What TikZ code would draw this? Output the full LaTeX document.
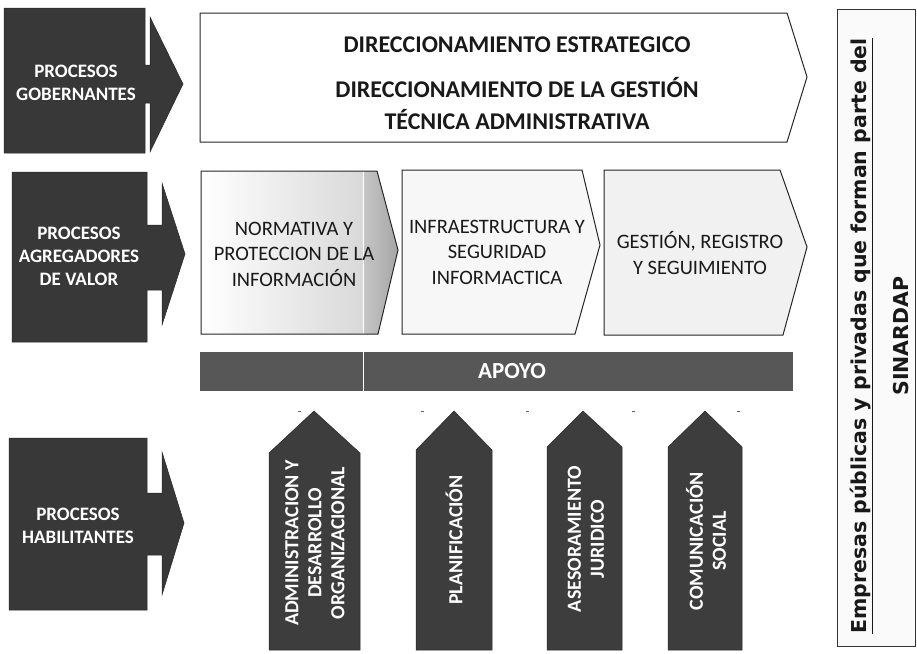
\documentclass[tikz,border=0pt]{standalone}
\usepackage{fontspec}
\setmainfont{Carlito}
\newfontfamily\dejavu{DejaVu Sans}
\usetikzlibrary{positioning}

\begin{document}
\begin{tikzpicture}[x=1pt, y=1pt,
    procbox/.style={fill=black!78, draw=black!85, line width=0.5pt},
    proclabel/.style={text=white, font=\bfseries\fontsize{19}{23}\selectfont, align=center},
    chevron/.style={draw=black!85, line width=1pt},
    chevlabel/.style={text=black!90, font=\fontsize{20.5}{25.5}\selectfont, align=center},
    toplabel/.style={text=black!90, font=\bfseries\fontsize{24}{32}\selectfont, align=center},
    pillar/.style={fill=black!76, draw=black!85, line width=0.5pt},
    pillarlabel/.style={text=white, font=\bfseries\fontsize{20}{23}\selectfont, align=center, rotate=90},
    apoyotick/.style={draw=black!60, line width=1pt}]

    \useasboundingbox (0,0) rectangle (917,-653);

    % Process blocks on the left, each with its arrow
    \fill[procbox] (4,-8) -- (145,-8) -- (145,-65) -- (150,-65) -- (150,-17) -- (183,-84) -- (150,-152) -- (150,-103) -- (145,-103) -- (145,-153) -- (4,-153) -- cycle;
    \fill[procbox] (12,-172) -- (147,-172) -- (147,-225) -- (162,-225) -- (162,-183) -- (185,-254) -- (162,-325) -- (162,-290) -- (147,-290) -- (147,-342) -- (12,-342) -- cycle;
    \fill[procbox] (9,-438) -- (147,-438) -- (147,-493) -- (162,-493) -- (162,-452) -- (184,-523) -- (162,-595) -- (162,-555) -- (147,-555) -- (147,-610) -- (9,-610) -- cycle;

    \node[proclabel] (gob) at (76,-83) {PROCESOS\\GOBERNANTES};
    \node[proclabel] (agr) at (79,-256) {PROCESOS\\AGREGADORES\\DE VALOR};
    \node[proclabel] (hab) at (78,-526) {PROCESOS\\HABILITANTES};

    % Top chevron
    \filldraw[chevron, fill=white] (200,-13) -- (787,-13) -- (807,-77) -- (787,-142) -- (200,-142) -- cycle;
    \node[toplabel] (estr) at (517,-45) {DIRECCIONAMIENTO ESTRATEGICO};
    \node[toplabel] (tecn) at (517,-104) {DIRECCIONAMIENTO DE LA GESTIÓN\\TÉCNICA ADMINISTRATIVA};

    % Second row of chevrons
    \begin{scope}
        \clip (201,-171) -- (377,-171) -- (398,-250) -- (378,-334) -- (201,-334) -- cycle;
        \shade[left color=white, right color=gray!30] (201,-171) rectangle (363,-334);
        \shade[left color=gray!45, right color=gray!70] (363,-171) rectangle (398,-334);
        \draw[white, line width=1pt] (363,-171) -- (363,-334);
    \end{scope}
    \draw[chevron] (201,-171) -- (377,-171) -- (398,-250) -- (378,-334) -- (201,-334) -- cycle;
    \filldraw[chevron, fill=gray!6] (402,-170) -- (582,-170) -- (600,-245) -- (575,-334) -- (402,-334) -- cycle;
    \filldraw[chevron, fill=gray!11] (604,-170) -- (780,-170) -- (807,-247) -- (783,-335) -- (604,-335) -- cycle;

    \node[chevlabel] (norm) at (294,-254) {NORMATIVA Y\\PROTECCION DE LA\\INFORMACIÓN};
    \node[chevlabel] (infra) at (497,-252) {INFRAESTRUCTURA Y\\SEGURIDAD\\INFORMACTICA};
    \node[chevlabel] (regi) at (700,-253) {GESTIÓN, REGISTRO\\Y SEGUIMIENTO};

    % Support bar
    \fill[black!66] (200,-352) rectangle (793,-391);
    \draw[white, line width=1pt] (363,-352) -- (363,-391);
    \node[text=white, font=\bfseries\fontsize{23}{26}\selectfont] (apoyo) at (512,-371) {APOYO};

    \foreach \x in {299,422,527,633,738}
        \draw[apoyotick] (\x-1.5,-411) -- (\x+1.5,-411);

    % Support pillars
    \fill[pillar] (269,-650) -- (269,-453) -- (314,-411) -- (360,-453) -- (360,-650) -- cycle;
    \fill[pillar] (416,-650) -- (416,-450) -- (454,-411) -- (492,-450) -- (492,-650) -- cycle;
    \fill[pillar] (547,-650) -- (547,-447) -- (583,-411) -- (622,-447) -- (622,-650) -- cycle;
    \fill[pillar] (668,-650) -- (668,-447) -- (705,-411) -- (742,-447) -- (742,-650) -- cycle;

    \node[pillarlabel] (admin) at (315,-543) {ADMINISTRACION Y\\DESARROLLO\\ORGANIZACIONAL};
    \node[pillarlabel] (plan) at (454,-540) {PLANIFICACIÓN};
    \node[pillarlabel] (ases) at (586,-539) {ASESORAMIENTO\\JURIDICO};
    \node[pillarlabel] (comu) at (706,-541) {COMUNICACIÓN\\SOCIAL};

    % Side panel
    \filldraw[draw=black!80, fill=gray!4, line width=1pt] (837,-9) rectangle (915,-646);
    \node[rotate=90, align=center, text=black!90, font=\dejavu\bfseries\fontsize{20.5}{42}\selectfont] (sinardap) at (879,-336)
        {\underline{Empresas públicas y privadas que forman parte del}\\SINARDAP};
\end{tikzpicture}
\end{document}
